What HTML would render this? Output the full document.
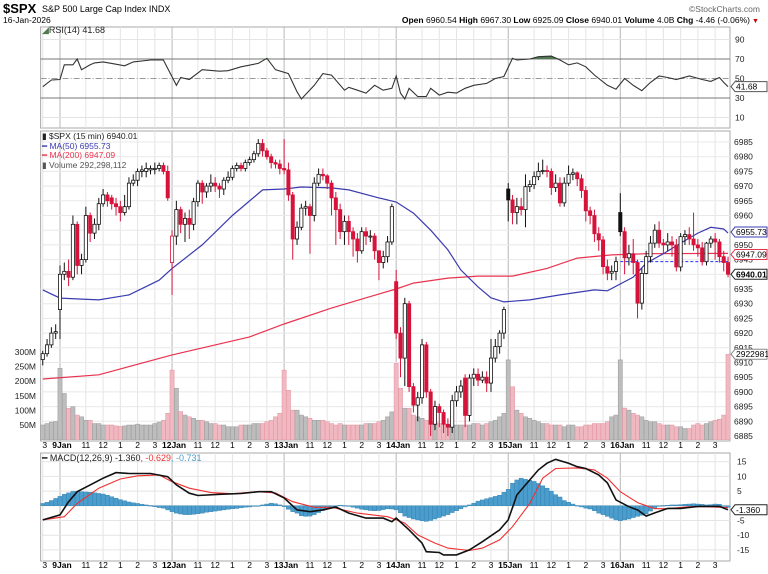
<!DOCTYPE html>
<html><head><meta charset="utf-8"><style>
body{margin:0;background:#fff;}
svg{display:block;font-family:"Liberation Sans",sans-serif;}
</style></head><body>
<svg id="chart" width="768" height="574" viewBox="0 0 768 574" xmlns="http://www.w3.org/2000/svg">
<rect width="768" height="574" fill="#fff"/>
<g>
<text x="3" y="13" font-size="13" font-weight="bold">$SPX</text>
<text x="42" y="12" font-size="9">S&amp;P 500 Large Cap Index  INDX</text>
<text x="760" y="12" font-size="8.5" fill="#666" text-anchor="end">©StockCharts.com</text>
<text x="3" y="23" font-size="8.5">16-Jan-2026</text>
<text x="750" y="23" font-size="8.5" text-anchor="end"><tspan font-weight="bold">Open</tspan> 6960.54 <tspan font-weight="bold">High</tspan> 6967.30 <tspan font-weight="bold">Low</tspan> 6925.09 <tspan font-weight="bold">Close</tspan> 6940.01 <tspan font-weight="bold">Volume</tspan> 4.0B <tspan font-weight="bold">Chg</tspan> -4.46 (-0.06%)</text>
<text x="752" y="23" font-size="7" fill="#c00">▼</text>
</g>
<g id="grid"></g>
<g id="marks"></g>
<g id="labels"></g>
</svg>
<script>
// ---------- data ----------
const opens = [6911,6913,6916,6920,
6928,6940,6941,6939,6957,6943,6945,6960,6954,6957,6964,6967,6966,6964,6963,6961,6963,6971,6972,6975,6975,6975.5,6976,6976,6977,6975,
6944,6953,6962,6957,6959,6957,6964.7,6971,6968,6970,6971,6970,6969,6972,6973,6976,6977,6976,6978,6979,6981,6984.5,6982,6980,6978,6977.5,
6976,6975.5,6967,6952,6956,6962.5,6963,6960,6971,6974,6973.5,6971,6966,6962,6954.5,6958,6954.5,6952,6948,6954.5,6953,6953,6948,6944,6946,6951,
6937.5,6920,6911.5,6930,6901.8,6895.5,6898,6916,6900,6889,6895,6893,6889,6888,6897,6900,6904.7,6892,6904.7,6906,6904,6905,6903,6911.5,6915.4,6920,
6969,6965.3,6961,6963,6962,6969.8,6970.5,6973.2,6975,6975.3,6975,6969.5,6971,6964.3,6971,6974,6974.5,6972.5,6968.5,6961.6,6960,6953.8,6951.7,6942.6,6940.4,6941,
6961,6954.5,6945.6,6947,6944,6930.2,6940.3,6946,6950.6,6955,6950.6,6950,6951,6950,6942.5,6952.8,6953.5,6952,6950,6949,6944.3,6950.6,6952,6951,6946,6944];
const closes = [6913,6916,6920,6920.5,
6940,6941,6939,6957,6943,6945,6960,6954,6957,6964,6967,6965,6964,6963,6961,6963,6971,6972,6975,6975.5,6976,6976,6976,6977,6975,6966,
6953,6962,6957,6959,6957,6964.7,6971,6968,6970,6971,6970,6969,6972,6973,6976,6977,6976,6978,6979,6981,6984.5,6982,6980,6978,6977.5,6976,
6975.5,6967,6952,6956,6962.5,6963,6960,6971,6974,6973.5,6971,6966,6962,6954.5,6958,6954.5,6952,6948,6954.5,6953,6953,6948,6944,6946,6951,6963,
6920,6911.5,6930,6901.8,6895.5,6898,6916,6900,6889,6895,6893,6889,6888,6897,6900,6902,6892,6904.7,6906,6904,6905,6903,6911.5,6915.4,6920,6928,
6965.3,6961,6963,6962,6969.8,6970.5,6973.2,6975,6975.3,6975,6969.5,6971,6964.3,6971,6974,6974.5,6972.5,6968.5,6961.6,6960,6953.8,6951.7,6942.6,6940.4,6941,6944.3,
6954.5,6945.6,6947,6944,6930.2,6940.3,6946,6950.6,6955,6950.6,6950,6951,6950,6942.5,6952.8,6953.5,6952,6950,6949,6944.3,6950.6,6952,6951,6946,6944,6940.01];
const highs = [6914,6918,6922,6923,
6943,6944,6945,6960,6958,6947,6963,6961,6959,6966,6969,6968,6967,6966,6965,6967,6973,6974,6976,6977,6978,6977,6978,6978,6978,6977,
6955,6965,6963,6961,6962,6966,6972,6972,6971,6974,6973,6971,6973,6975,6977,6978,6978,6979,6980,6982,6986,6986,6983,6981,6979,6979,
6986,6978,6968,6958,6964,6965,6964,6973,6976,6976,6974,6972,6968,6964,6960,6960,6956,6954,6956,6956,6955,6954,6946,6948,6953,6964,
6941.5,6922,6932,6931,6903,6900,6918,6917,6901,6897,6896,6894,6891,6899,6902,6904,6906,6906,6908,6908,6907,6907,6918,6918,6921,6929,
6971,6967,6966,6966,6974,6972,6975,6978,6979,6977,6976,6974,6973,6973,6977,6976,6975,6974,6970,6963,6962,6956,6953,6945,6943,6946,
6967.6,6956,6950,6952,6945,6942,6948,6953,6957,6958,6952,6954,6953,6952,6954,6955,6956,6961,6952,6951,6951,6953,6954,6952,6948,6946];
const lows = [6909,6912,6915,6918,
6918,6938,6936,6938,6940,6940,6944,6951,6952,6955,6963,6963,6962,6960,6958,6960,6962,6970,6970,6973,6973,6974,6974,6975,6974,6965,
6933,6950,6954,6951,6952,6955,6963,6964,6966,6968,6968,6966,6967,6971,6972,6975,6975,6975,6977,6978,6980,6980,6979,6976,6976,6974,
6974,6965,6945,6950,6955,6960,6947,6958,6970,6972,6969,6960,6950,6952,6950,6950,6946,6944,6947,6950,6951,6945,6938,6942,6944,6950,
6918,6905,6902,6900,6893,6890,6896,6898,6885,6887,6888,6886,6885,6886,6895,6898,6888,6890,6902,6902,6903,6900,6900,6910,6913,6918,
6958,6957,6957,6960,6956,6968,6969,6972,6974,6973,6967,6968,6963,6963,6970,6972,6970,6966,6958,6957,6951,6948,6940,6938,6938,6938,
6953,6940,6943,6940,6925,6928,6940,6944,6949,6949,6947,6948,6946,6941,6941,6950,6950,6948,6946,6943,6943,6949,6945,6944,6941,6939];
const volumes = [50,55,60,62,
244,158,107,113,84,78,66,66,55,55,50,50,50,47,45,47,50,50,53,50,50,50,55,60,66,90,
238,176,96,84,78,73,66,66,61,55,55,50,50,44,44,44,50,50,50,55,55,55,61,66,78,90,
238,169,101,101,84,78,73,66,66,66,61,55,50,55,50,50,50,50,50,55,55,55,61,66,78,95,
261,176,107,107,84,78,73,66,61,61,55,55,50,50,50,50,50,50,55,55,50,55,61,66,78,90,
273,181,101,90,78,73,66,61,55,55,50,50,50,44,50,50,44,44,50,50,55,55,55,61,78,84,
273,108,101,90,84,78,66,61,61,55,50,50,50,44,44,38,38,50,55,50,55,61,66,70,84,292];
const ma50Bars = [0,4,13,20,27,30,37,44,51,56,60,67,71,78,82,86,90,94,97,101,104,107,113,120,128,131,137,140,144,148,152,155,158,159];
const ma50Vals = [6934.7,6931.9,6931.3,6933,6938,6942,6950,6960,6968.7,6969,6969.7,6969.4,6968.7,6966,6964.6,6960.8,6955,6948.3,6941.5,6935.7,6932,6930.6,6931.3,6933,6934.7,6934.4,6939,6943.8,6947,6950.6,6954,6956,6955.4,6954];
const ma200Bars = [0,13,30,48,56,67,75,82,86,94,101,109,117,124,132,140,159];
const ma200Vals = [6904.4,6905.8,6912.6,6918.7,6923.1,6928.5,6932,6935,6937,6938.7,6939.4,6939.4,6942,6945.5,6946.6,6947,6947.1];
const rsiBars = [0,2,4,5,7,8,9,11,12,14,16,19,21,25,28,31,32,34,37,41,43,46,50,52,54,57,59,60,63,65,67,70,71,73,75,77,79,81,82,83,84,85,87,89,90,92,94,96,98,100,103,105,107,109,110,113,115,118,120,122,124,126,128,131,133,135,137,139,141,143,145,147,150,153,155,157,158,159];
const rsiVals = [41.6,48.5,49,64,64,70,59,64,66,67,65.5,63,67,69,69,43,51,49,59,57.5,58,62,65.5,70.7,59,55,36.5,29,43,55,53.5,38,41,38,35,43,38,40,52.6,35,29,40,31.5,31.5,40,33,36,35,40,43,45,50,52,70.7,69,70,72.4,73,69,64,66,62,53.6,43,39,50,43,37.5,46,52.6,51,49,52.6,49,47,51,46,41.7];
const macdBars = [0,4,6,8,11,14,17,20,25,29,31,34,36,41,46,50,53,56,59,62,65,68,71,75,79,81,82,85,88,89,92,93,96,99,102,106,108,110,113,115,117,119,122,124,126,129,131,133,136,138,140,142,145,148,152,155,157,159];
const macdVals = [-4.8,-3.1,1.4,4.8,7.1,9.4,11.3,11,11,9.9,7.1,4.3,3.5,3.9,4.2,4.8,4.8,2.7,-1.4,-2,-1.4,-0.4,-2.5,-4.2,-4.2,-5.4,-4.2,-8.2,-12.7,-15.6,-15.9,-16.7,-16.7,-15,-12.2,-8.2,-4.8,3.7,8.8,12.2,14.5,15.8,14.5,13.3,12.7,10.5,7.8,2,-0.3,-1.4,-3.5,-2.4,-0.9,-0.9,-0.2,-0.2,-0.2,-1.36];
const signalBars = [0,5,8,13,18,22,27,30,34,39,44,50,54,58,63,67,73,80,84,87,91,94,99,102,106,109,113,116,119,124,128,131,134,138,142,145,150,154,159];
const signalVals = [-4.8,-3.7,0.8,6,9.1,10.2,10.5,8.2,6,4.5,4.1,4.8,4.4,1.4,-0.5,-0.5,-2.5,-3.7,-5.9,-9.9,-12.7,-14.4,-15.2,-14.4,-11.6,-7.1,0.8,9.4,12.7,12.9,12.2,9.4,4.8,1.1,-1,-1,-0.3,-0.3,-0.6];
const histVals = [0.8,1.2,1.8,2.5,3.2,3.9,4.4,4.9,4.9,4.8,
4.7,4.6,4.4,4.2,4.0,3.6,3.1,2.6,2.1,1.7,
1.3,1.0,0.8,0.5,0.3,0.1,-0.3,-0.6,-0.8,-1.4,
-2.0,-2.5,-2.8,-3.0,-3.0,-2.9,-2.7,-2.5,-2.2,-2.0,
-1.8,-1.6,-1.4,-1.2,-1.0,-0.9,-0.7,-0.5,-0.4,-0.2,
0.0,0.3,0.6,0.9,0.7,0.3,-0.3,-1.2,-2.0,-2.5,
-3.4,-3.6,-3.5,-3.0,-2.3,-1.6,-1.0,-0.5,0.0,0.2,
0.1,-0.2,-0.5,-0.8,-1.2,-1.4,-1.6,-1.7,-1.6,-1.3,
-1.0,-1.1,-1.4,-2.4,-3.5,-4.0,-4.5,-4.8,-5.1,-5.3,
-5.0,-4.5,-4.0,-3.5,-3.0,-2.3,-1.7,-1.0,-0.4,0.3,
0.9,1.6,2.0,2.4,2.8,3.2,3.6,4.6,5.6,7.7,
8.8,9.4,9.0,8.7,8.3,7.6,6.8,6.0,5.0,3.8,
3.0,1.8,1.2,0.6,0.1,-0.4,-0.8,-1.1,-1.7,-2.5,
-3.0,-3.6,-4.2,-4.8,-5.1,-4.8,-4.5,-4.0,-3.6,-3.2,
-2.8,-1.8,-0.8,-0.2,0.1,0.2,0.3,0.3,0.4,0.5,
0.6,0.7,0.6,0.5,0.3,0.4,0.6,0.5,-0.2,-0.5];
const dayLabels = ["9Jan","12Jan","13Jan","14Jan","15Jan","16Jan"];
const dayStarts = [4,30,56,82,108,134];
const hourLabels = ["11","12","1","2","3"];
const hourOffsets = [6,10,14,18,22];
const priceTicks = [6985,6980,6975,6970,6965,6960,6955,6950,6945,6940,6935,6930,6925,6920,6915,6910,6905,6900,6895,6890,6885];
const volTicks = [300,250,200,150,100,50];
const rsiTicks = [90,70,50,30,10];
const macdTicks = [15,10,5,-5,-10,-15];
const lastClose = 6940.01, ma50Last = 6955.73, ma200Last = 6947.09, rsiLast = 41.68, openLine = 6944.3;

// ---------- scales ----------
const L = 40.6, R = 730, STEP = 4.31;
const xi = i => L + (i + 0.5) * STEP;
const py = p => 142 + (6985 - p) * 2.94;
const vy = v => 439.6 - v * 0.292;
const ry = v => 59 + (70 - v) * 0.975;
const my = v => 505.8 - v * 2.94;
const NS = "http://www.w3.org/2000/svg";
function mk(tag, attrs, parent) {
  const e = document.createElementNS(NS, tag);
  for (const k in attrs) e.setAttribute(k, attrs[k]);
  parent.appendChild(e);
  return e;
}
const grid = document.getElementById('grid');
const marks = document.getElementById('marks');
const labels = document.getElementById('labels');
const panels = [[27,128],[131,441],[453,561]];

// panel frames
panels.forEach((p, k) => {
  const r = mk('rect', {x: L, y: p[0], width: R - L, height: p[1] - p[0], fill: 'none', stroke: '#aaa', 'stroke-width': 1}, grid);
  
  
});
// vertical grid
function vline(x, color, name) {
  panels.forEach(p => {
    const l = mk('line', {x1: x, x2: x, y1: p[0], y2: p[1], stroke: color, 'stroke-width': 1}, grid);
    
    
  });
}
vline(xi(0), '#e4e4e4', 'hour-gridline');
dayStarts.forEach((s, d) => {
  vline(xi(s), '#b8b8b8', 'day-gridline');
  hourOffsets.forEach(o => vline(xi(s + o), '#e4e4e4', 'hour-gridline'));
});
// horizontal grid
priceTicks.forEach(t => {
  const l = mk('line', {x1: L, x2: R, y1: py(t), y2: py(t), stroke: '#e8e8e8'}, grid);
  
  
  const tx = mk('text', {x: 734, y: py(t) + 3, 'font-size': 8.5, fill: '#222'}, labels);
  tx.textContent = t;
  
  
});
volTicks.forEach(t => {
  const tx = mk('text', {x: 36, y: vy(t) + 3, 'font-size': 8.5, 'text-anchor': 'end', fill: '#222'}, labels);
  tx.textContent = t + 'M';
  
  
});
rsiTicks.forEach(t => {
  const l = mk('line', {x1: L, x2: R, y1: ry(t), y2: ry(t), stroke: (t === 70 || t === 30) ? '#777' : '#e4e4e4', 'stroke-dasharray': t === 50 ? '6,2,1,2' : 'none'}, grid);
  if (t === 50) l.setAttribute('stroke', '#999');
  
  
  const tx = mk('text', {x: 735, y: ry(t) + 3, 'font-size': 8.5, fill: '#222'}, labels);
  tx.textContent = t;
  
  
});
[15,10,5,0,-5,-10,-15].forEach(t => {
  const l = mk('line', {x1: L, x2: R, y1: my(t), y2: my(t), stroke: '#e4e4e4'}, grid);
  
  
});
macdTicks.forEach(t => {
  const tx = mk('text', {x: 737, y: my(t) + 3, 'font-size': 8.5, fill: '#222'}, labels);
  tx.textContent = t;
  
  
});
// x-axis labels (two bands)
[448, 568].forEach(yy => {
  const t0 = mk('text', {x: xi(0) + 2, y: yy, 'font-size': 8.5, 'text-anchor': 'middle'}, labels);
  t0.textContent = '3';
  
  
  dayStarts.forEach((s, d) => {
    const td = mk('text', {x: xi(s) + 2, y: yy, 'font-size': 8.5, 'font-weight': 'bold', 'text-anchor': 'middle'}, labels);
    td.textContent = dayLabels[d];
    
    
    hourOffsets.forEach((o, h) => {
      if (d === dayStarts.length - 1 && h === hourOffsets.length) return;
      const th = mk('text', {x: xi(s + o), y: yy, 'font-size': 8.5, 'text-anchor': 'middle'}, labels);
      th.textContent = hourLabels[h];
      
      
    });
  });
});

// ---------- volume ----------
volumes.forEach((v, i) => {
  const up = i === 0 || closes[i] >= closes[i - 1];
  const r = mk('rect', {x: xi(i) - 2.1, y: vy(v), width: 4.2, height: vy(0) - vy(v), fill: up ? '#bdbdbd' : '#f0b9c1', stroke: up ? '#999' : '#e391a0', 'stroke-width': 0.5}, marks);
  
  
});

// ---------- moving averages ----------
function poly(bars, vals, yf, color, name, w) {
  const pts = bars.map((b, k) => xi(b).toFixed(1) + ',' + yf(vals[k]).toFixed(1)).join(' ');
  const p = mk('polyline', {points: pts, fill: 'none', stroke: color, 'stroke-width': w || 1.2}, marks);
  
  
  return p;
}
poly(ma200Bars, ma200Vals, py, '#e8334f', 'ma200-line', 1.2);
poly(ma50Bars, ma50Vals, py, '#3b3bb0', 'ma50-line', 1.2);
const ol = mk('line', {x1: xi(134), x2: R, y1: py(openLine), y2: py(openLine), stroke: '#2233ee', 'stroke-dasharray': '3,2', 'stroke-width': 1}, marks);



// ---------- candles ----------
closes.forEach((c, i) => {
  const o = opens[i];
  const prev = i === 0 ? o : closes[i - 1];
  const col = c >= prev ? '#111' : '#d6133a';
  const w = mk('line', {x1: xi(i), x2: xi(i), y1: py(highs[i]), y2: py(lows[i]), stroke: col, 'stroke-width': 1}, marks);
  
  
  const top = py(Math.max(o, c)), bot = py(Math.min(o, c));
  const b = mk('rect', {x: xi(i) - 1.6, y: top, width: 3.2, height: Math.max(1, bot - top), fill: c < o ? col : '#fff', stroke: col, 'stroke-width': 0.8}, marks);
  
  
});

// ---------- RSI ----------
const ov = [];
rsiBars.forEach((b, k) => { if (rsiVals[k] > 70) ov.push(k); });
if (ov.length) {
  const k0 = ov[0] - 1, k1 = ov[ov.length - 1] + 1;
  let pts = xi(rsiBars[k0]) + ',' + ry(70);
  for (let k = k0 + 1; k < k1; k++) pts += ' ' + xi(rsiBars[k]) + ',' + ry(Math.max(70, rsiVals[k]));
  pts += ' ' + xi(rsiBars[k1]) + ',' + ry(70);
  const f = mk('polygon', {points: pts, fill: '#4f7a4f'}, marks);
  
  
}
poly(rsiBars, rsiVals, ry, '#333', 'rsi-line', 1.1);

// ---------- MACD ----------
histVals.forEach((v, i) => {
  const y0 = my(0), y1 = my(v);
  const r = mk('rect', {x: xi(i) - 2.1, y: Math.min(y0, y1), width: 4.2, height: Math.max(0.6, Math.abs(y1 - y0)), fill: '#4a9dcc', stroke: '#2f7fae', 'stroke-width': 0.4}, marks);
  
  
});
poly(signalBars, signalVals, my, '#f03030', 'macd-signal-line', 1.1);
poly(macdBars, macdVals, my, '#111', 'macd-line', 1.6);

// ---------- value tags ----------
function tag(y, txt, stroke, name, bold) {
  const g = mk('g', {}, labels);
  
  
  mk('path', {d: `M${R+1},${y} l4,-5 h32 v10 h-32 z`, fill: '#fff', stroke: stroke, 'stroke-width': 1}, g);
  const t = mk('text', {x: R + 6, y: y + 3, 'font-size': 8.5, 'font-weight': bold ? 'bold' : 'normal'}, g);
  t.textContent = txt;
}
tag(ry(rsiLast), rsiLast.toFixed(2), '#555', 'rsi-value-tag');
tag(py(ma50Last) + 4, ma50Last.toFixed(2), '#3b3bb0', 'ma50-value-tag');
tag(py(ma200Last) + 1, ma200Last.toFixed(2), '#e8334f', 'ma200-value-tag');
tag(py(lastClose), lastClose.toFixed(2), '#222', 'last-price-tag', true);
tag(vy(292.3), '2922981', '#888', 'volume-value-tag');
tag(my(-1.36), '-1.360', '#222', 'macd-value-tag');
</script>
<svg width="0" height="0"></svg>
<div style="position:absolute;left:0;top:0;width:768px;height:574px;pointer-events:none;font-family:'Liberation Sans',sans-serif;">
<div style="position:absolute;left:42px;top:25px;font-size:9px;color:#222;"><span style="color:#4f7a4f">◢</span>RSI(14) 41.68</div>
<div style="position:absolute;left:42px;top:132px;font-size:8.5px;line-height:9.6px;">
<div style="color:#222">▮ $SPX (15 min) 6940.01</div>
<div style="color:#3b3bb0">━ MA(50) 6955.73</div>
<div style="color:#e8334f">━ MA(200) 6947.09</div>
<div style="color:#555">▮ Volume 292,298,112</div>
</div>
<div style="position:absolute;left:42px;top:453px;font-size:9px;color:#222;">━ MACD(12,26,9) -1.360<span style="color:#f03030">, -0.629</span><span style="color:#4a9dcc">, -0.731</span></div>
</div>
</body></html>
